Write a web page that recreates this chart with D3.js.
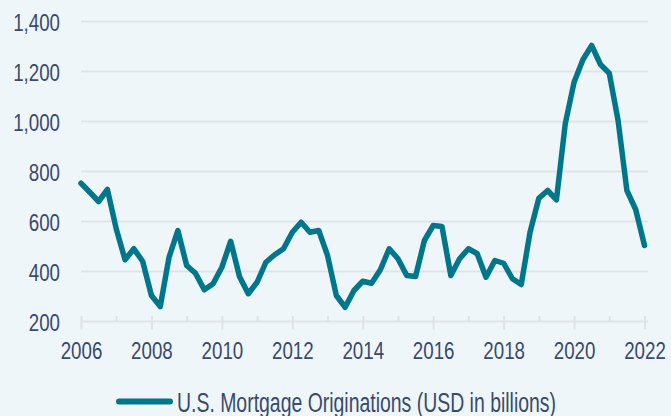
<!DOCTYPE html>
<html lang="en">
<head>
  <meta charset="UTF-8" />
  <title>U.S. Mortgage Originations</title>
  <script src="https://d3js.org/d3.v7.min.js"></script>
  <style>
    body { margin: 0; padding: 0; background: #eff6fa; }
    svg { display: block; background: #eff6fa; }
    text { font-family: "Liberation Sans", Arial, sans-serif; fill: #3a4a6a; }
    .grid line { stroke: #dfe3e7; stroke-width: 2px; }
    .axis path { display: none; }
    .axis line { stroke: #dfe3e7; stroke-width: 2px; }
  </style>
</head>
<body>
  <svg width="671" height="416"></svg>

  <script>
  // quarterly values, Q1 2006 .. Q1 2022 (USD billions)
  const startYear = 2006;
  const originations = [
    753, 717, 680, 728,
    571, 447, 491, 441,
    304, 260, 457, 564,
    424, 393, 327, 351,
    417, 521, 380, 311,
    357, 437, 467, 491,
    557, 597, 557, 564,
    464, 304, 257, 324,
    361, 353, 407, 491,
    451, 384, 380, 524,
    584, 580, 384, 451,
    491, 471, 377, 444,
    433, 371, 348, 557,
    693, 724, 687, 991,
    1157, 1247, 1304, 1228,
    1193, 1004, 724, 648,
    504
  ];
  const yearTicks = d3.range(2006, 2023);
  const valueTicks = [200, 400, 600, 800, 1000, 1200, 1400];
  const legendLabel = "U.S. Mortgage Originations (USD in billions)";

  const svg = d3.select("svg");
  const lineColor = "#00768a";
  const narrow = 0.78; // squeeze to mimic a condensed face

  function squeeze(sel) {
    sel.each(function() {
      const w = this.getComputedTextLength();
      if (w > 0) d3.select(this).attr("textLength", w * narrow).attr("lengthAdjust", "spacingAndGlyphs");
    });
  }

  const x = d3.scaleLinear().domain([2006, 2022]).range([81, 644.5]);
  const y = d3.scaleLinear().domain([200, 1400]).range([321.5, 21.5]);

  // horizontal gridlines
  svg.append("g").attr("class", "grid")
    .selectAll("line").data(valueTicks).enter().append("line")
    .attr("x1", 81).attr("x2", 648)
    .attr("y1", d => y(d)).attr("y2", d => y(d));

  // y labels
  svg.append("g").attr("class", "axis")
    .attr("transform", "translate(81,0)")
    .call(d3.axisLeft(y).tickValues(valueTicks).tickFormat(d3.format(",")).tickSize(0).tickPadding(21))
    .selectAll("text").style("font-size", "24px").attr("dy", "0.36em").call(squeeze);

  // x axis with longer ticks on even years
  const xa = svg.append("g").attr("class", "axis")
    .attr("transform", `translate(0,${y(200)})`)
    .call(d3.axisBottom(x).tickValues(yearTicks).tickFormat(d => d % 2 === 0 ? d : "").tickSize(8).tickPadding(12));
  xa.selectAll(".tick line")
    .attr("y1", -5.5)
    .attr("y2", d => d % 2 === 0 ? 8 : 0.5);
  xa.selectAll("text").style("font-size", "24px").attr("dy", "0.71em").call(squeeze);

  // series line
  const line = d3.line()
    .x((d, i) => x(startYear + i / 4))
    .y(d => y(d));

  svg.append("path")
    .datum(originations)
    .attr("d", line)
    .attr("fill", "none")
    .attr("stroke", lineColor)
    .attr("stroke-width", 5.5)
    .attr("stroke-linejoin", "round")
    .attr("stroke-linecap", "round");

  // legend
  const lg = svg.append("g").attr("transform", "translate(0,401.5)");
  lg.append("line")
    .attr("x1", 119).attr("x2", 170)
    .attr("stroke", lineColor).attr("stroke-width", 6).attr("stroke-linecap", "round");
  lg.append("text")
    .attr("x", 177).attr("y", 10.5)
    .style("font-size", "27px")
    .attr("textLength", 379)
    .attr("lengthAdjust", "spacingAndGlyphs")
    .text(legendLabel);
  </script>
</body>
</html>
